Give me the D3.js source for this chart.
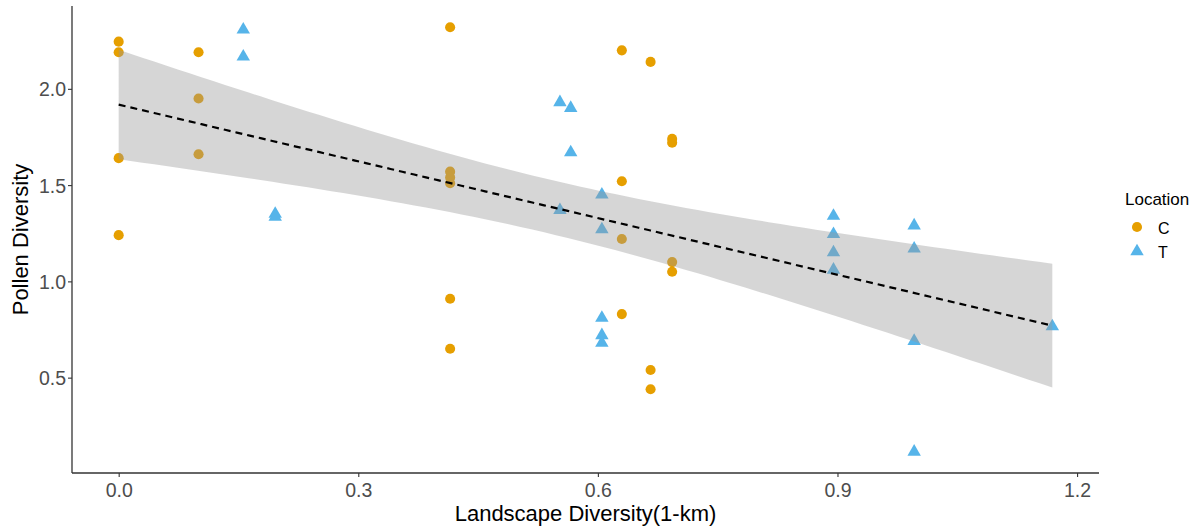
<!DOCTYPE html>
<html>
<head>
<meta charset="utf-8">
<script src="https://cdn.jsdelivr.net/npm/d3@7"></script>
<style>
  body { margin: 0; background: #fff; }
  svg { display: block; font-family: "Liberation Sans", Arial, sans-serif; }
</style>
</head>
<body>
<svg id="chart" width="1191" height="529"></svg>
<script>
// ---- Data ----
const locations = ["C", "T"];
const colors = ["#E69F00", "#56B4E9"];

const cX = [0, 0, 0, 0, 0.1, 0.1, 0.1, 0.415, 0.415, 0.415, 0.415, 0.415, 0.415,
            0.63, 0.63, 0.63, 0.63, 0.666, 0.666, 0.666, 0.693, 0.693, 0.693, 0.693];
const cY = [2.245, 2.19, 1.64, 1.24, 2.19, 1.95, 1.66, 2.32, 1.57, 1.54, 1.51, 0.91, 0.65,
            2.20, 1.52, 1.22, 0.83, 2.14, 0.54, 0.44, 1.74, 1.72, 1.10, 1.05];

const tX = [0.156, 0.156, 0.196, 0.196, 0.5525, 0.5525, 0.566, 0.566,
            0.605, 0.605, 0.605, 0.605, 0.605, 0.895, 0.895, 0.895, 0.895,
            0.996, 0.996, 0.996, 0.996, 1.169];
const tY = [2.307, 2.167, 1.35, 1.335, 1.93, 1.37, 1.90, 1.67,
            1.45, 1.27, 0.81, 0.72, 0.68, 1.34, 1.245, 1.15, 1.06,
            1.29, 1.17, 0.69, 0.115, 0.766];

const xTicks = [0.0, 0.3, 0.6, 0.9, 1.2];
const yTicks = [0.5, 1.0, 1.5, 2.0];
const xTitle = "Landscape Diversity(1-km)";
const yTitle = "Pollen Diversity";
const legendTitle = "Location";

// ---- Build point table ----
const points = [];
cX.forEach((x, i) => points.push({x, y: cY[i], loc: "C"}));
tX.forEach((x, i) => points.push({x, y: tY[i], loc: "T"}));

// ---- Layout ----
const svg = d3.select("#chart");
const panel = {left: 72, right: 1099, top: 6, bottom: 473};

const xExt = d3.extent(points, d => d.x);
const yExt = d3.extent(points, d => d.y);
const xPad = (xExt[1] - xExt[0]) * 0.05;
const yPad = (yExt[1] - yExt[0]) * 0.05;

const x = d3.scaleLinear().domain([xExt[0] - xPad, xExt[1] + xPad]).range([panel.left, panel.right]);
const y = d3.scaleLinear().domain([yExt[0] - yPad, yExt[1] + yPad]).range([panel.bottom, panel.top]);
const color = d3.scaleOrdinal().domain(locations).range(colors);

// ---- Linear model with 95% CI (like geom_smooth(method="lm")) ----
const n = points.length;
const mx = d3.mean(points, d => d.x);
const my = d3.mean(points, d => d.y);
const sxx = d3.sum(points, d => (d.x - mx) ** 2);
const sxy = d3.sum(points, d => (d.x - mx) * (d.y - my));
const slope = sxy / sxx;
const intercept = my - slope * mx;
const sse = d3.sum(points, d => (d.y - (intercept + slope * d.x)) ** 2);
const sigma = Math.sqrt(sse / (n - 2));
const tCrit = 2.015; // t(0.975, df = 44)
const fit = d3.range(80).map(i => {
  const xv = xExt[0] + (xExt[1] - xExt[0]) * i / 79;
  const yv = intercept + slope * xv;
  const se = sigma * Math.sqrt(1 / n + (xv - mx) ** 2 / sxx);
  return {x: xv, y: yv, lo: yv - tCrit * se, hi: yv + tCrit * se};
});

// ---- Points (drawn first; the band is layered on top like in ggplot) ----
const gPts = svg.append("g");
gPts.selectAll("path.pt")
  .data(points)
  .join("path")
  .attr("class", "pt")
  .attr("transform", d => `translate(${x(d.x)},${y(d.y)})`)
  .attr("d", d => d.loc === "C"
      ? d3.symbol(d3.symbolCircle, 80)()
      : d3.symbol(d3.symbolTriangle, 78)())
  .attr("fill", d => color(d.loc));

// ---- Confidence band ----
svg.append("path")
  .datum(fit)
  .attr("d", d3.area().x(d => x(d.x)).y0(d => y(d.lo)).y1(d => y(d.hi)))
  .attr("fill", "#999999")
  .attr("fill-opacity", 0.4);

// ---- Fit line ----
svg.append("path")
  .datum(fit)
  .attr("d", d3.line().x(d => x(d.x)).y(d => y(d.y)))
  .attr("fill", "none")
  .attr("stroke", "#000")
  .attr("stroke-width", 2.2)
  .attr("stroke-dasharray", "7,5");

// ---- Axes ----
const xAxis = svg.append("g")
  .attr("transform", `translate(0,${panel.bottom})`)
  .call(d3.axisBottom(x).tickValues(xTicks).tickFormat(d3.format(".1f")).tickSize(4).tickSizeOuter(0));
const yAxis = svg.append("g")
  .attr("transform", `translate(${panel.left},0)`)
  .call(d3.axisLeft(y).tickValues(yTicks).tickFormat(d3.format(".1f")).tickSize(4).tickSizeOuter(0));

[xAxis, yAxis].forEach(g => {
  g.select(".domain").attr("stroke", "#333").attr("stroke-width", 1.3);
  g.selectAll(".tick line").attr("stroke", "#333").attr("stroke-width", 1.1);
  g.selectAll(".tick text")
    .attr("fill", "#4D4D4D")
    .style("font-size", "19.5px")
    .style("font-family", '"Liberation Sans", Arial, sans-serif');
});
xAxis.selectAll(".tick text").attr("dy", null).attr("y", 24);
yAxis.selectAll(".tick text").attr("x", -6).attr("dy", "0.36em");
// extend axis lines to full panel
xAxis.select(".domain").attr("d", `M${panel.left},0H${panel.right}`);
yAxis.select(".domain").attr("d", `M0,${panel.top}V${panel.bottom}`);

// ---- Axis titles ----
svg.append("text")
  .attr("x", (panel.left + panel.right) / 2)
  .attr("y", 521)
  .attr("text-anchor", "middle")
  .style("font-size", "22px")
  .attr("fill", "#000")
  .text(xTitle);

svg.append("text")
  .attr("transform", `translate(28,${(panel.top + panel.bottom) / 2}) rotate(-90)`)
  .attr("text-anchor", "middle")
  .style("font-size", "22px")
  .attr("fill", "#000")
  .text(yTitle);

// ---- Legend ----
const lg = svg.append("g");
lg.append("text")
  .attr("x", 1125).attr("y", 205)
  .style("font-size", "17px")
  .attr("fill", "#000")
  .text(legendTitle);
locations.forEach((loc, i) => {
  const cy = 227 + i * 24.5;
  lg.append("path")
    .attr("transform", `translate(1137,${cy})`)
    .attr("d", loc === "C" ? d3.symbol(d3.symbolCircle, 80)() : d3.symbol(d3.symbolTriangle, 78)())
    .attr("fill", color(loc));
  lg.append("text")
    .attr("x", 1158).attr("y", cy + 6.5)
    .style("font-size", "16px")
    .attr("fill", "#000")
    .text(loc);
});
</script>
</body>
</html>
